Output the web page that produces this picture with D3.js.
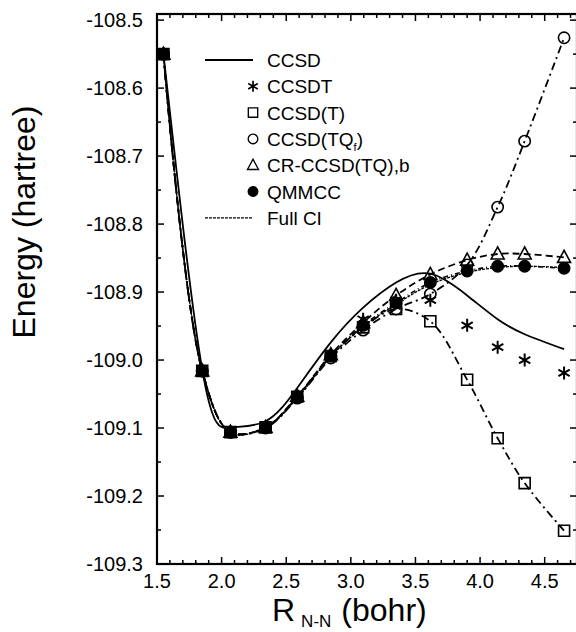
<!DOCTYPE html>
<html>
<head>
<meta charset="utf-8">
<script src="https://cdn.jsdelivr.net/npm/d3@7"></script>
<style>
  html, body { margin: 0; padding: 0; background: #fff; }
  svg { display: block; font-family: "Liberation Sans", Arial, Helvetica, sans-serif; }
</style>
</head>
<body>
<svg id="chart" width="576" height="632"></svg>
<script>
// ---- data ----
const rValues = [1.55, 1.85, 2.068, 2.34, 2.585, 2.845, 3.095, 3.35, 3.615, 3.9, 4.136, 4.345, 4.65];
const ccsd     = [-108.550, -109.014, -109.099, -109.090, -109.041, -108.974, -108.923, -108.886, -108.873, -108.905, -108.940, -108.962, -108.984];
const ccsdt    = [-108.550, -109.016, -109.106, -109.099, -109.053, -108.993, -108.940, -108.912, -108.912, -108.949, -108.981, -109.000, -109.019];
const ccsdT    = [-108.550, -109.016, -109.106, -109.099, -109.054, -108.994, -108.952, -108.925, -108.943, -109.029, -109.115, -109.181, -109.251];
const ccsdTQf  = [-108.550, -109.016, -109.106, -109.100, -109.056, -108.997, -108.956, -108.925, -108.903, -108.860, -108.775, -108.678, -108.526];
const crcc     = [-108.550, -109.016, -109.106, -109.099, -109.053, -108.992, -108.945, -108.905, -108.874, -108.853, -108.844, -108.844, -108.849];
const qmmcc    = [-108.550, -109.016, -109.106, -109.099, -109.054, -108.994, -108.949, -108.916, -108.886, -108.869, -108.862, -108.862, -108.865];
const fullCI   = [-108.550, -109.016, -109.107, -109.100, -109.056, -108.995, -108.951, -108.918, -108.889, -108.871, -108.864, -108.862, -108.864];

const xTicks = [1.5, 2.0, 2.5, 3.0, 3.5, 4.0, 4.5];
const yTicks = [-108.5, -108.6, -108.7, -108.8, -108.9, -109.0, -109.1, -109.2, -109.3];
const legendLabels = ["CCSD", "CCSDT", "CCSD(T)", "CCSD(TQf)", "CR-CCSD(TQ),b", "QMMCC", "Full CI"];

// ---- scales ----
const svg = d3.select("#chart");
const x = d3.scaleLinear().domain([1.5, 4.75]).range([157, 577]);
const y = d3.scaleLinear().domain([-109.3, -108.491]).range([564, 14]);

// ---- frame ----
svg.append("rect").attr("x", x(1.5)).attr("y", y(-108.491))
  .attr("width", x(4.75) - x(1.5)).attr("height", y(-109.3) - y(-108.491))
  .attr("fill", "none").attr("stroke", "#000").attr("stroke-width", 2.2);

const xMinor = d3.range(15, 48).map(d => d / 10).filter(v => v <= 4.75);
const yMinor = d3.range(0, 17).map(i => -109.3 + i * 0.05);

const tickG = svg.append("g").attr("stroke", "#000").attr("stroke-width", 1.5);
xMinor.forEach(v => {
  const major = Math.abs(v * 2 - Math.round(v * 2)) < 1e-6;
  const len = major ? 7 : 4;
  tickG.append("line").attr("x1", x(v)).attr("x2", x(v)).attr("y1", y(-109.3)).attr("y2", y(-109.3) - len);
  tickG.append("line").attr("x1", x(v)).attr("x2", x(v)).attr("y1", y(-108.491)).attr("y2", y(-108.491) + len);
});
yMinor.forEach((v, i) => {
  const len = i % 2 === 0 ? 7 : 4;
  tickG.append("line").attr("x1", x(1.5)).attr("x2", x(1.5) + len).attr("y1", y(v)).attr("y2", y(v));
  tickG.append("line").attr("x1", x(4.75)).attr("x2", x(4.75) - len).attr("y1", y(v)).attr("y2", y(v));
});

// tick labels
svg.append("g").selectAll("text").data(xTicks).join("text")
  .attr("x", d => x(d)).attr("y", 588).attr("text-anchor", "middle")
  .attr("font-size", 20).text(d => d.toFixed(1));
svg.append("g").selectAll("text").data(yTicks).join("text")
  .attr("x", 143).attr("y", d => y(d) + 7).attr("text-anchor", "end")
  .attr("font-size", 20).text(d => d.toFixed(1));

// axis titles
const xt = svg.append("text").attr("x", 272).attr("y", 621).attr("font-size", 32);
xt.append("tspan").text("R");
xt.append("tspan").attr("font-size", 17).attr("dy", 6).attr("dx", 6).text("N-N");
xt.append("tspan").attr("dy", -6).attr("dx", 10).text("(bohr)");

svg.append("text").attr("transform", "translate(35,222) rotate(-90)")
  .attr("text-anchor", "middle").attr("font-size", 32).text("Energy (hartree)");

// ---- lines ----
const plotG = svg.append("g");
const mkLine = curve => d3.line().x((d, i) => x(rValues[i])).y(d => y(d)).curve(curve);
const smooth = d3.curveCatmullRom.alpha(0.5);

plotG.append("path").attr("d", mkLine(d3.curveNatural)(ccsd)).attr("fill", "none")
  .attr("stroke", "#000").attr("stroke-width", 1.8);
plotG.append("path").attr("d", mkLine(smooth)(fullCI)).attr("fill", "none")
  .attr("stroke", "#000").attr("stroke-width", 1.3).attr("stroke-dasharray", "3,1");
plotG.append("path").attr("d", mkLine(smooth)(ccsdT)).attr("fill", "none")
  .attr("stroke", "#000").attr("stroke-width", 1.8).attr("stroke-dasharray", "8,4,2,4");
plotG.append("path").attr("d", mkLine(smooth)(ccsdTQf)).attr("fill", "none")
  .attr("stroke", "#000").attr("stroke-width", 1.8).attr("stroke-dasharray", "8,4,2,4");
plotG.append("path").attr("d", mkLine(smooth)(crcc)).attr("fill", "none")
  .attr("stroke", "#000").attr("stroke-width", 1.8).attr("stroke-dasharray", "7,4");
plotG.append("path").attr("d", mkLine(smooth)(qmmcc)).attr("fill", "none")
  .attr("stroke", "#000").attr("stroke-width", 1.6).attr("stroke-dasharray", "5,3,1,3");

// ---- markers ----
function starPath(s) {
  const r = s / 2, p = [];
  for (let k = 0; k < 3; k++) {
    const a = Math.PI / 2 + k * Math.PI / 3;
    p.push(`M${r * Math.cos(a)},${-r * Math.sin(a)}L${-r * Math.cos(a)},${r * Math.sin(a)}`);
  }
  return p.join("");
}
const shapes = {
  square: () => "M-5.5,-5.5H5.5V5.5H-5.5Z",
  circle: () => d3.symbol(d3.symbolCircle, 100)(),
  triangle: () => "M0,-7L6.5,5H-6.5Z",
  star: () => starPath(13),
  dot: () => d3.symbol(d3.symbolCircle, 100)()
};
function drawMarkers(vals, shape) {
  plotG.append("g").selectAll("path").data(vals).join("path")
    .attr("transform", (d, i) => `translate(${x(rValues[i])},${y(d)})`)
    .attr("d", shapes[shape]())
    .attr("fill", shape === "dot" ? "#000" : "none")
    .attr("stroke", "#000").attr("stroke-width", shape === "star" ? 2 : 1.6);
}
drawMarkers(ccsdT, "square");
drawMarkers(ccsdTQf, "circle");
drawMarkers(crcc, "triangle");
drawMarkers(ccsdt, "star");
drawMarkers(qmmcc, "dot");

// ---- legend ----
const legY = d3.range(7).map(i => 60 + i * 26.3);
const leg = svg.append("g");
const legendStyle = [
  { line: "" }, { shape: "star" }, { shape: "square" }, { shape: "circle" },
  { shape: "triangle" }, { shape: "dot" }, { line: "3,1" }
];
legendLabels.forEach((lab, i) => {
  const st = legendStyle[i];
  if (st.line !== undefined) {
    leg.append("line").attr("x1", 205).attr("x2", 253).attr("y1", legY[i]).attr("y2", legY[i])
      .attr("stroke", "#000").attr("stroke-width", st.line ? 1.3 : 1.8)
      .attr("stroke-dasharray", st.line || null);
  } else {
    leg.append("path").attr("transform", `translate(253,${legY[i]}) scale(0.85)`)
      .attr("d", shapes[st.shape]())
      .attr("fill", st.shape === "dot" ? "#000" : "none")
      .attr("stroke", "#000").attr("stroke-width", st.shape === "star" ? 2 : 1.6);
  }
  const t = leg.append("text").attr("x", 267).attr("y", legY[i] + 7).attr("font-size", 19);
  if (lab === "CCSD(TQf)") {
    t.append("tspan").text("CCSD(TQ");
    t.append("tspan").attr("font-size", 11).attr("dy", 5).text("f");
    t.append("tspan").attr("dy", -5).text(")");
  } else {
    t.text(lab);
  }
});
</script>
</body>
</html>
